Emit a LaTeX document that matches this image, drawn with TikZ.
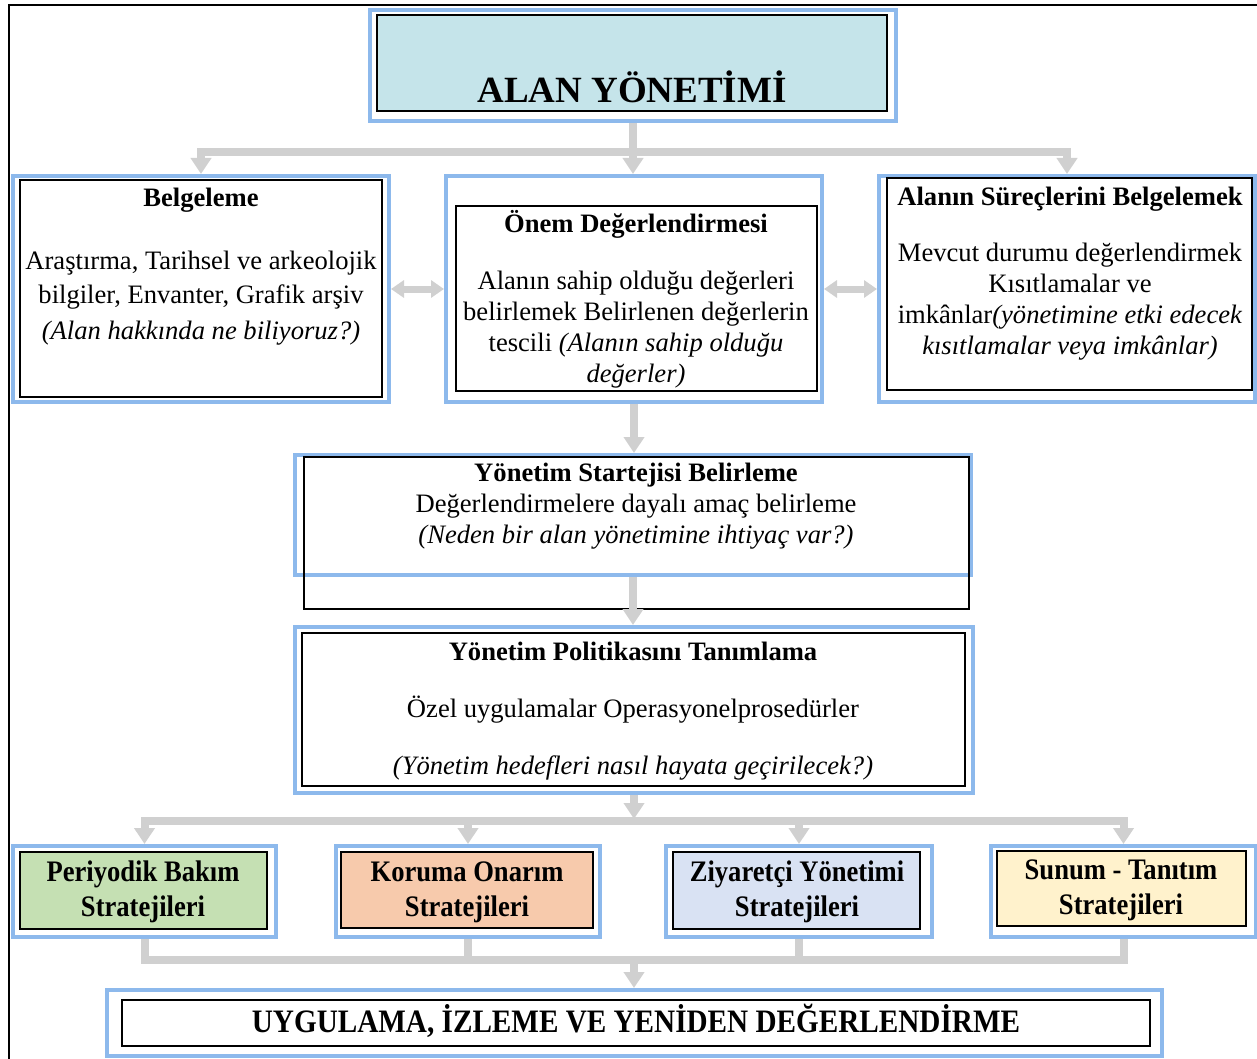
\documentclass[tikz,border=0pt]{standalone}
\usepackage{fontspec}
\setmainfont{Liberation Serif}
\usepackage{graphicx}
\usepackage{tikz}
\usetikzlibrary{arrows.meta, fit}
\definecolor{frameBlue}{HTML}{8DB9EC}
\definecolor{headColor}{HTML}{C5E4EA}
\definecolor{greenColor}{HTML}{C5E0B3}
\definecolor{peachColor}{HTML}{F7CAAC}
\definecolor{lilacColor}{HTML}{D9E2F3}
\definecolor{creamColor}{HTML}{FFF2CC}
\definecolor{arrowGray}{HTML}{D0D0D0}
\newcommand{\boxfont}{\fontsize{13.3}{15.5}\selectfont}
\newcommand{\tall}[1]{\scalebox{1}[1.12]{#1}}

\begin{document}
\begin{tikzpicture}[x=0.5pt, y=-0.5pt,
    outer/.style={draw=frameBlue, line width=2pt, inner sep=0pt},
    inner/.style={draw=black, line width=0.9pt, inner sep=0pt},
    txt/.style={align=center, inner sep=0pt, font=\boxfont, anchor=north},
    strat/.style={align=center, inner sep=0pt, font=\bfseries\fontsize{13.3}{17.5}\selectfont},
    conn/.style={draw=arrowGray, line width=4pt, -{Triangle[width=10pt,length=8pt]}},
    twoway/.style={draw=arrowGray, line width=3.5pt, {Triangle[width=8.5pt,length=6.5pt]}-{Triangle[width=8.5pt,length=6.5pt]}},
    link/.style={draw=arrowGray, line width=4pt}]
    \useasboundingbox (0,0) rectangle (1257,1059);
    \draw[line width=1.2pt] (9,1059) -- (9,5) -- (1257,5);

    \node[outer, fit={(370,10) (896,121)}] (alan) {};
    \node[inner, fill=headColor, fit={(377,15) (887,111)}] (alan-in) {};
    \node[anchor=base, inner sep=0pt, font=\bfseries\fontsize{18.5}{22}\selectfont] (alan-txt) at (632,103) {ALAN YÖNETİMİ};

    \node[outer, fit={(13,176) (389,402)}] (belg) {};
    \node[inner, fit={(20,180) (382,397)}] (belg-in) {};
    \node[txt] (belg-txt) at (201,184) {\strut\textbf{Belgeleme}\\[16pt]
        Araştırma, Tarihsel ve arkeolojik\\[1.5pt]
        bilgiler, Envanter, Grafik arşiv\\[2.5pt]
        \textit{(Alan hakkında ne biliyoruz?)}};

    \node[outer, fit={(446,176) (822,402)}] (onem) {};
    \node[inner, fit={(456,206) (817,391)}] (onem-in) {};
    \node[txt] (onem-txt) at (636,210) {\strut\textbf{Önem Değerlendirmesi}\\[13pt]
        Alanın sahip olduğu değerleri\\
        belirlemek Belirlenen değerlerin\\
        tescili \textit{(Alanın sahip olduğu}\\
        \textit{değerler)}};

    \node[outer, fit={(879,176) (1255,402)}] (surec) {};
    \node[inner, fit={(887,178) (1252,390)}] (surec-in) {};
    \node[txt] (surec-txt) at (1070,183) {\strut\textbf{Alanın Süreçlerini Belgelemek}\\[12.5pt]
        Mevcut durumu değerlendirmek\\
        Kısıtlamalar ve\\
        imkânlar\textit{(yönetimine etki edecek}\\
        \textit{kısıtlamalar veya imkânlar)}};

    \node[outer, fit={(295,455) (971,575)}] (strat) {};
    \node[inner, fit={(304,457) (969,609)}] (strat-in) {};
    \node[txt] (strat-txt) at (636,459) {\strut\textbf{Yönetim Startejisi Belirleme}\\
        Değerlendirmelere dayalı amaç belirleme\\
        \textit{(Neden bir alan yönetimine ihtiyaç var?)}};

    \node[outer, fit={(295,627) (973,793)}] (pol) {};
    \node[inner, fit={(302,633) (965,786)}] (pol-in) {};
    \node[txt] (pol-txt) at (633,638) {\strut\textbf{Yönetim Politikasını Tanımlama}\\[13pt]
        Özel uygulamalar Operasyonelprosedürler\\[13pt]
        \textit{(Yönetim hedefleri nasıl hayata geçirilecek?)}};

    \node[outer, fit={(13,846) (276,937)}] (peri) {};
    \node[inner, fill=greenColor, fit={(20,852) (267,929)}] (peri-in) {};
    \node[strat] (peri-txt) at (143,892) {\tall{Periyodik Bakım}\\\tall{Stratejileri}};

    \node[outer, fit={(336,846) (600,937)}] (koru) {};
    \node[inner, fill=peachColor, fit={(341,852) (593,928)}] (koru-in) {};
    \node[strat] (koru-txt) at (467,892) {\tall{Koruma Onarım}\\\tall{Stratejileri}};

    \node[outer, fit={(666,846) (932,937)}] (ziya) {};
    \node[inner, fill=lilacColor, fit={(673,852) (920,929)}] (ziya-in) {};
    \node[strat] (ziya-txt) at (797,892) {\tall{Ziyaretçi Yönetimi}\\\tall{Stratejileri}};

    \node[outer, fit={(991,846) (1256,937)}] (sunu) {};
    \node[inner, fill=creamColor, fit={(997,851) (1246,926)}] (sunu-in) {};
    \node[strat] (sunu-txt) at (1121,890) {\tall{Sunum - Tanıtım}\\\tall{Stratejileri}};

    \node[outer, fit={(107,990) (1162,1056)}] (uyg) {};
    \node[inner, fit={(122,1000) (1150,1046)}] (uyg-in) {};
    \node[inner sep=0pt, font=\bfseries\fontsize{14.6}{17}\selectfont] (uyg-txt) at (636,1021)
        {\tall{UYGULAMA, İZLEME VE YENİDEN DEĞERLENDİRME}};

    \coordinate (topBar) at (633,152);
    \coordinate (midBar) at (634,821);
    \coordinate (botBar) at (634,960);

    \draw[conn] (alan.south) -- (alan.south |- onem.north);
    \draw[conn] (topBar) -| (belg.north);
    \draw[conn] (topBar) -| (surec.north);
    \draw[twoway] (belg.east) -- (onem.west);
    \draw[twoway] (onem.east) -- (surec.west);
    \draw[conn] (onem.south) -- (onem.south |- strat.north);
    \draw[conn] (strat.south) -- (strat.south |- pol.north);
    \draw[conn] (pol.south) -- ++(0,24);
    \foreach \s in {peri,koru,ziya,sunu}
        \draw[conn] (midBar) -| (\s.north);
    \foreach \s in {peri,koru,ziya,sunu}
        \draw[link] (\s.south) |- (botBar);
    \draw[conn] (botBar) -- (botBar |- uyg.north);
\end{tikzpicture}
\end{document}
